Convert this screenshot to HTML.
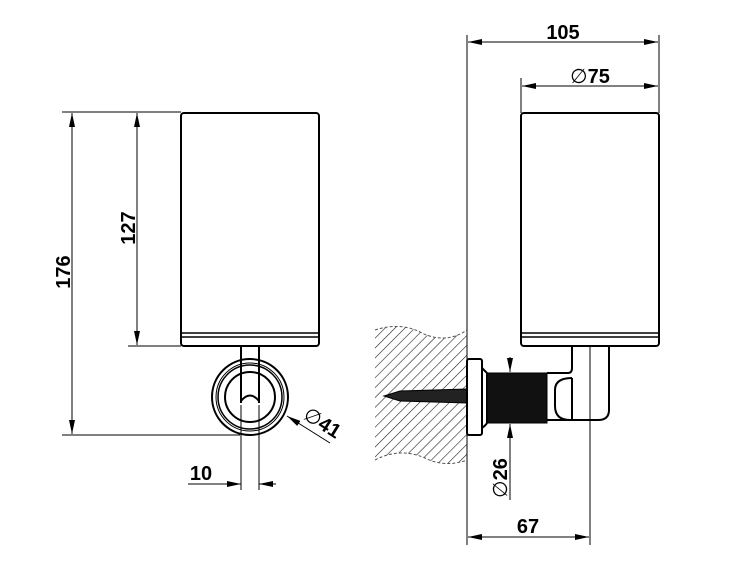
<!DOCTYPE html>
<html><head><meta charset="utf-8"><style>html,body{margin:0;padding:0;background:#fff}svg{display:block}</style></head>
<body>
<svg width="750" height="563" viewBox="0 0 750 563" xmlns="http://www.w3.org/2000/svg" font-family="Liberation Sans, sans-serif" font-weight="bold">
<defs>
<marker id="a" markerWidth="14" markerHeight="6" refX="14" refY="3" orient="auto" markerUnits="userSpaceOnUse"><path d="M0,0 L14,3 L0,6 Z" fill="#000"/></marker>
<pattern id="h" width="7" height="7" patternUnits="userSpaceOnUse" patternTransform="rotate(45)"><line x1="0" y1="0" x2="0" y2="7" stroke="#222" stroke-width="1.2"/></pattern>
</defs>
<g stroke="#000" fill="none">
<rect x="181" y="113" width="138" height="233" rx="3" stroke-width="2"/>
<line x1="181" y1="333" x2="319" y2="333" stroke-width="1.5"/>
<line x1="181" y1="337" x2="319" y2="337" stroke-width="1.5"/>
<circle cx="250" cy="397" r="38" stroke-width="2"/>
<circle cx="250" cy="397" r="34" stroke-width="1"/>
<circle cx="250" cy="397" r="32" stroke-width="1.5"/>
<circle cx="250" cy="397" r="25" stroke-width="2"/>
<path d="M241,346 V403 M259,346 V403 M241,401 Q250,390 259,401" stroke-width="2"/>
<g stroke-width="1">
<line x1="62" y1="112" x2="181" y2="112"/>
<line x1="62" y1="435" x2="240" y2="435"/>
<line x1="128" y1="346" x2="181" y2="346"/>
<line x1="72" y1="270" x2="72" y2="113" marker-end="url(#a)"/>
<line x1="72" y1="270" x2="72" y2="434" marker-end="url(#a)"/>
<line x1="137" y1="230" x2="137" y2="113" marker-end="url(#a)"/>
<line x1="137" y1="230" x2="137" y2="345" marker-end="url(#a)"/>
<line x1="241" y1="405" x2="241" y2="490"/>
<line x1="259" y1="405" x2="259" y2="490"/>
<line x1="188" y1="484" x2="241" y2="484" marker-end="url(#a)"/>
<line x1="276" y1="484" x2="259" y2="484" marker-end="url(#a)"/>
<line x1="330" y1="443" x2="287" y2="416" marker-end="url(#a)"/>
</g>
<path d="M375,330 Q400,322 420,332 Q445,345 467,330 V460 Q445,468 425,458 Q400,447 375,460 Z" fill="url(#h)" stroke="none"/>
<path d="M375,330 Q400,322 420,332 Q445,345 467,330 M375,460 Q400,447 425,458 Q445,468 467,460" stroke="#555" stroke-width="1" stroke-dasharray="3,2"/>
<line x1="467" y1="35" x2="467" y2="545" stroke-width="1"/>
<rect x="521" y="113" width="138" height="233" rx="3" stroke-width="2"/>
<line x1="521" y1="333" x2="659" y2="333" stroke-width="1.5"/>
<line x1="521" y1="337" x2="659" y2="337" stroke-width="1.5"/>
<path d="M384,396 L400,391 L467,389 L467,403 L400,401 Z" fill="#222" stroke-width="1"/>
<rect x="467" y="359" width="15" height="76" rx="2" fill="#fff" stroke-width="2"/>
<path d="M482,368 Q486,372 487,373 V423 Q486,425 482,428" stroke-width="2"/>
<rect x="487" y="373" width="60" height="50" fill="#111" stroke="#000"/>
<path d="M547,373 H568 Q572,373 572,368 V346 M609,346 V410 Q609,420 598,420 H547 M572,378 Q555,378 555,390 V406 Q555,420 570,420 M572,378 V420" stroke-width="2"/>
<g stroke-width="1">
<line x1="590" y1="346" x2="590" y2="545"/>
<line x1="659" y1="35" x2="659" y2="113"/>
<line x1="521" y1="78" x2="521" y2="113"/>
<line x1="563" y1="42" x2="468" y2="42" marker-end="url(#a)"/>
<line x1="563" y1="42" x2="658" y2="42" marker-end="url(#a)"/>
<line x1="590" y1="86" x2="522" y2="86" marker-end="url(#a)"/>
<line x1="590" y1="86" x2="658" y2="86" marker-end="url(#a)"/>
<line x1="528" y1="537" x2="468" y2="537" marker-end="url(#a)"/>
<line x1="528" y1="537" x2="589" y2="537" marker-end="url(#a)"/>
<line x1="510" y1="357" x2="510" y2="372" marker-end="url(#a)"/>
<line x1="510" y1="500" x2="510" y2="424" marker-end="url(#a)"/>
</g>
</g>
<g font-size="20" fill="#000">
<text transform="translate(70,272) rotate(-90)" text-anchor="middle">176</text>
<text transform="translate(135,228) rotate(-90)" text-anchor="middle">127</text>
<text x="201" y="480" text-anchor="middle">10</text>
<text transform="translate(302,418) rotate(32)"><tspan font-weight="normal">∅</tspan>41</text>
<text x="563" y="39" text-anchor="middle">105</text>
<text x="590" y="83" text-anchor="middle"><tspan font-weight="normal">∅</tspan>75</text>
<text x="528" y="533" text-anchor="middle">67</text>
<text transform="translate(507,478) rotate(-90)" text-anchor="middle"><tspan font-weight="normal">∅</tspan>26</text>
</g>
</svg>
</body></html>
